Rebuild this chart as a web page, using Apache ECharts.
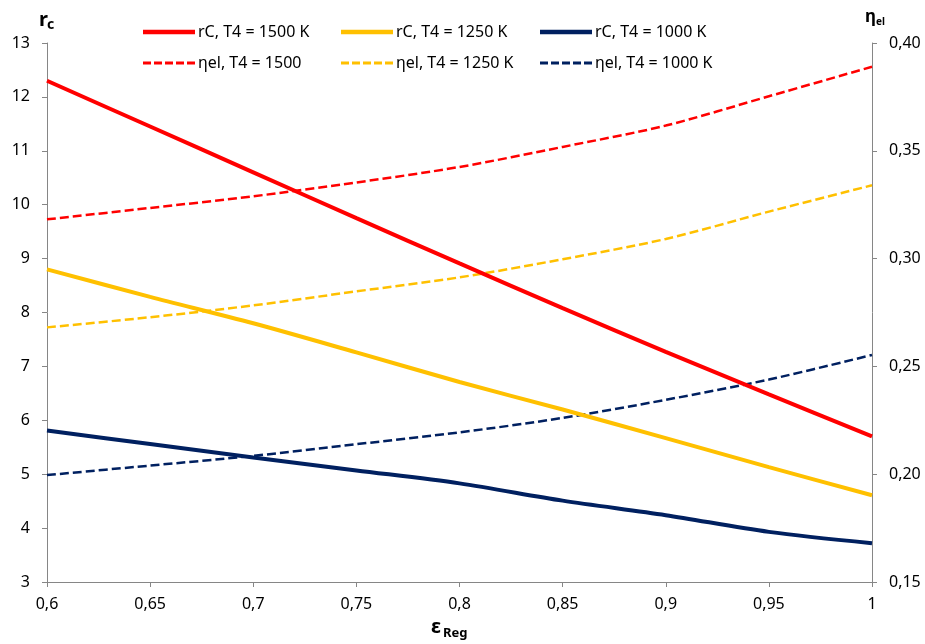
<!DOCTYPE html>
<html>
<head>
<meta charset="utf-8">
<script src="https://cdn.jsdelivr.net/npm/echarts@6/dist/echarts.min.js"></script>
<style>
  html, body { margin: 0; padding: 0; background: #fff; }
  #chart { width: 925px; height: 644px; }
</style>
</head>
<body>
<div id="chart"></div>
<script>
// Regenerator effectiveness (x axis)
const epsReg = [0.6, 0.65, 0.7, 0.75, 0.8, 0.85, 0.9, 0.95, 1.0];

// Compressor pressure ratio rC (left axis)
const rc1500 = [12.30, 11.45, 10.60, 9.75, 8.91, 8.08, 7.27, 6.48, 5.70];
const rc1250 = [8.80, 8.29, 7.80, 7.26, 6.71, 6.20, 5.67, 5.13, 4.61];
const rc1000 = [5.81, 5.56, 5.31, 5.07, 4.83, 4.51, 4.24, 3.93, 3.72];

// Electrical efficiency ηel (right axis)
const eta1500 = [0.3182, 0.3235, 0.3289, 0.3353, 0.3425, 0.3518, 0.3617, 0.3753, 0.3890];
const eta1250 = [0.2681, 0.2728, 0.2783, 0.2848, 0.2913, 0.2997, 0.3091, 0.3218, 0.3340];
const eta1000 = [0.1996, 0.2040, 0.2085, 0.2139, 0.2194, 0.2261, 0.2345, 0.2439, 0.2553];

// Series names
const names = {
  rc1500: 'rC, T4 = 1500 K',
  rc1250: 'rC, T4 = 1250 K',
  rc1000: 'rC, T4 = 1000 K',
  eta1500: 'ηel, T4 = 1500',
  eta1250: 'ηel, T4 = 1250 K',
  eta1000: 'ηel, T4 = 1000 K'
};

// Tick labels
const xTickLabels = ['0,6', '0,65', '0,7', '0,75', '0,8', '0,85', '0,9', '0,95', '1'];
const leftTickLabels = ['3', '4', '5', '6', '7', '8', '9', '10', '11', '12', '13'];
const rightTickLabels = ['0,15', '0,20', '0,25', '0,30', '0,35', '0,40'];

const RED = '#FF0000', GOLD = '#FFC000', NAVY = '#002060';
const FONT = 'Noto Sans';
const FONT_SIZE = 16;
const AXIS_GREY = '#868686';

// Legend swatches: a thick bar for rC, a dashed bar for ηel
const ICON_SOLID = 'path://M0,0h52v4.5h-52z';
const ICON_DASHED = 'path://M0,0h8v3h-8z M11,0h8v3h-8z M22,0h8v3h-8z M33,0h8v3h-8z M44,0h8v3h-8z';

function pairs(ys) { return epsReg.map((x, i) => [x, ys[i]]); }

function solid(name, ys, color) {
  return {
    name, type: 'line', yAxisIndex: 0, data: pairs(ys),
    smooth: 0.3, symbol: 'none', showSymbol: false,
    lineStyle: { color, width: 4 }, itemStyle: { color },
    z: 3
  };
}
function dashed(name, ys, color) {
  return {
    name, type: 'line', yAxisIndex: 1, data: pairs(ys),
    smooth: 0.3, symbol: 'none', showSymbol: false,
    lineStyle: { color, width: 2.5, type: [9, 4] }, itemStyle: { color },
    z: 2
  };
}

const axisCommon = {
  axisLine: { show: true, lineStyle: { color: AXIS_GREY, width: 1 } },
  axisTick: { show: true, length: 5, lineStyle: { color: AXIS_GREY } },
  splitLine: { show: false },
  axisLabel: { color: '#000', fontFamily: FONT, fontSize: FONT_SIZE }
};

function legendColumn(left, solidName, dashedName) {
  return {
    orient: 'vertical', left, top: 24, padding: 0,
    itemWidth: 52, itemHeight: 14, itemGap: 15,
    symbolKeepAspect: true,
    data: [
      { name: solidName, icon: ICON_SOLID },
      { name: dashedName, icon: ICON_DASHED }
    ],
    textStyle: { color: '#000', fontFamily: FONT, fontSize: FONT_SIZE, padding: [0, 0, 0, -2] },
    selectedMode: false
  };
}

const chart = echarts.init(document.getElementById('chart'), null, { renderer: 'canvas' });

chart.setOption({
  backgroundColor: '#fff',
  animation: false,
  grid: { left: 47, right: 53, top: 43, bottom: 62 },
  legend: [
    legendColumn(143, names.rc1500, names.eta1500),
    legendColumn(341, names.rc1250, names.eta1250),
    legendColumn(540, names.rc1000, names.eta1000)
  ],
  xAxis: Object.assign({}, axisCommon, {
    type: 'value', min: 0.6, max: 1.0, interval: 0.05,
    axisLabel: Object.assign({}, axisCommon.axisLabel, {
      margin: 14,
      formatter: (v) => xTickLabels[Math.round((v - 0.6) / 0.05)]
    })
  }),
  yAxis: [
    Object.assign({}, axisCommon, {
      type: 'value', min: 3, max: 13, interval: 1, position: 'left',
      axisLabel: Object.assign({}, axisCommon.axisLabel, {
        margin: 17,
        formatter: (v) => leftTickLabels[Math.round(v - 3)]
      })
    }),
    Object.assign({}, axisCommon, {
      type: 'value', min: 0.15, max: 0.40, interval: 0.05, position: 'right',
      axisLabel: Object.assign({}, axisCommon.axisLabel, {
        margin: 17,
        formatter: (v) => rightTickLabels[Math.round((v - 0.15) / 0.05)]
      })
    })
  ],
  graphic: [
    // left axis title r_c
    { type: 'text', left: 39, top: 10, style: { text: 'r', font: 'bold 20px "Noto Sans"', fill: '#000' } },
    { type: 'text', left: 47, top: 18, style: { text: 'c', font: 'bold 14px "Noto Sans"', fill: '#000' } },
    // right axis title η_el
    { type: 'text', left: 865, top: 9, style: { text: 'η', font: 'bold 17px "Noto Sans"', fill: '#000' } },
    { type: 'text', left: 876, top: 17, style: { text: 'el', font: 'bold 10px "Noto Sans"', fill: '#000' } },
    // x axis title ε_Reg
    { type: 'text', left: 431, top: 617, style: { text: 'ε', font: 'bold 20px "Noto Sans"', fill: '#000' } },
    { type: 'text', left: 443, top: 627, style: { text: 'Reg', font: 'bold 13px "Noto Sans"', fill: '#000' } }
  ],
  series: [
    solid(names.rc1500, rc1500, RED),
    solid(names.rc1250, rc1250, GOLD),
    solid(names.rc1000, rc1000, NAVY),
    dashed(names.eta1500, eta1500, RED),
    dashed(names.eta1250, eta1250, GOLD),
    dashed(names.eta1000, eta1000, NAVY)
  ]
});
</script>
</body>
</html>
